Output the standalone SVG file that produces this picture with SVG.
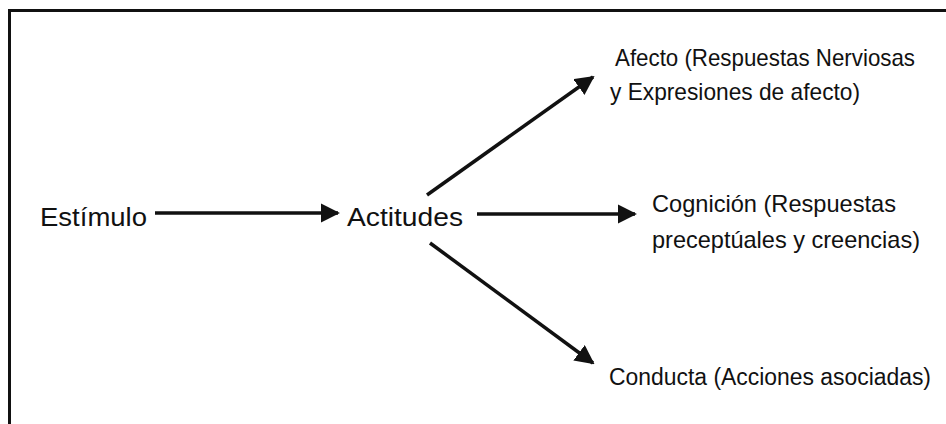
<svg xmlns="http://www.w3.org/2000/svg" width="946" height="424" viewBox="0 0 946 424">
<defs>
<style>
.t{font-family:"Liberation Sans",Arial,sans-serif;font-size:26px;fill:#111;}
.r{font-family:"Liberation Sans",Arial,sans-serif;font-size:24px;fill:#111;}
.c{stroke:#111;stroke-width:3.5;fill:none;}
</style>
<marker id="ah" viewBox="0 0 10 10" refX="9" refY="5" markerWidth="5.5" markerHeight="5.5" markerUnits="strokeWidth" orient="auto">
<path d="M0,0 L10,5 L0,10 Z" fill="#111"/>
</marker>
</defs>
<rect width="946" height="424" fill="#fff"/>
<g id="frame">
<path d="M9.5,424 L9.5,10.5 L946,10.5" stroke="#111" stroke-width="3" fill="none"/>
</g>
<g id="connectors">
<line class="c" x1="155" y1="213" x2="338" y2="213" marker-end="url(#ah)"/>
<line class="c" x1="477" y1="214" x2="635" y2="214" marker-end="url(#ah)"/>
<line class="c" x1="427" y1="195" x2="593" y2="77" marker-end="url(#ah)"/>
<line class="c" x1="430" y1="243" x2="593" y2="363" marker-end="url(#ah)"/>
</g>
<g id="estimulo"><text class="t" x="40" y="226" textLength="107" lengthAdjust="spacingAndGlyphs">Estímulo</text></g>
<g id="actitudes"><text class="t" x="347" y="226" textLength="116" lengthAdjust="spacingAndGlyphs">Actitudes</text></g>
<g id="afecto">
<text class="r" x="615" y="66" textLength="300" lengthAdjust="spacingAndGlyphs">Afecto (Respuestas Nerviosas</text>
<text class="r" x="610" y="100" textLength="250" lengthAdjust="spacingAndGlyphs">y Expresiones de afecto)</text>
</g>
<g id="cognicion">
<text class="r" x="652" y="212" textLength="244" lengthAdjust="spacingAndGlyphs">Cognición (Respuestas</text>
<text class="r" x="652" y="248" textLength="268" lengthAdjust="spacingAndGlyphs">preceptúales y creencias)</text>
</g>
<g id="conducta"><text class="r" x="609" y="385" textLength="322" lengthAdjust="spacingAndGlyphs" style="font-size:23.5px">Conducta (Acciones asociadas)</text></g>
</svg>
